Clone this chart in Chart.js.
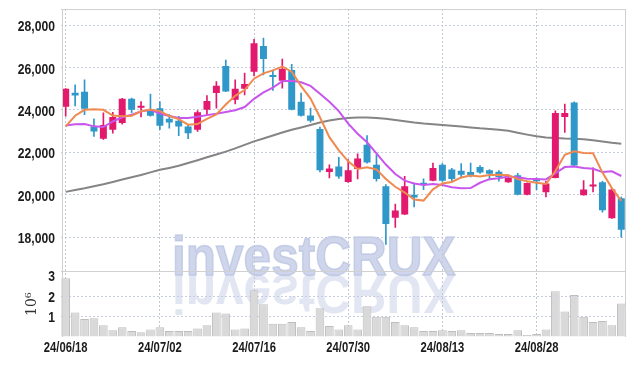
<!DOCTYPE html>
<html>
<head>
<meta charset="utf-8">
<script src="https://cdn.jsdelivr.net/npm/chart.js@4.4.1/dist/chart.umd.min.js"></script>
<style>
  html, body { margin: 0; padding: 0; background: #fff; }
  canvas { display: block; }
</style>
</head>
<body>
<canvas id="stockChart" width="634" height="366"></canvas>
<script>
// trading days, 24/06/18 .. 24/09/10
const dates = [
  '24/06/18','24/06/19','24/06/20','24/06/21','24/06/24','24/06/25','24/06/26','24/06/27','24/06/28','24/07/01',
  '24/07/02','24/07/03','24/07/04','24/07/05','24/07/08','24/07/09','24/07/10','24/07/11','24/07/12','24/07/15',
  '24/07/16','24/07/17','24/07/18','24/07/19','24/07/22','24/07/23','24/07/24','24/07/25','24/07/26','24/07/29',
  '24/07/30','24/07/31','24/08/01','24/08/02','24/08/05','24/08/06','24/08/07','24/08/08','24/08/09','24/08/12',
  '24/08/13','24/08/14','24/08/16','24/08/19','24/08/20','24/08/21','24/08/22','24/08/23','24/08/26','24/08/27',
  '24/08/28','24/08/29','24/08/30','24/09/02','24/09/03','24/09/04','24/09/05','24/09/06','24/09/09','24/09/10'
];

const openP = [
  24150, 24800, 24850, 23210, 22640, 23060, 23380, 24520, 24100, 24030,
  24080, 23580, 23480, 23210, 23060, 24000, 24790, 26070, 24470, 24990,
  25800, 27010, 25600, 25370, 25880, 24380, 23730, 23100, 21070, 21330,
  20600, 21210, 22350, 21410, 20390, 18910, 19060, 20000, 20510, 20660,
  21410, 21180, 21130, 21070, 21300, 21150, 21080, 20580, 20910, 20000,
  20710, 20110, 20790, 23660, 24350, 19970, 20380, 20580, 18890, 19830
];
const highP = [
  25000, 25180, 25410, 23580, 23860, 23880, 24540, 24550, 24390, 24740,
  24390, 23770, 23690, 23300, 23970, 24670, 25330, 26350, 25410, 25730,
  27330, 27380, 25880, 26390, 26150, 24790, 24080, 23190, 21410, 21760,
  21650, 21920, 22790, 21880, 20470, 19560, 20860, 20550, 20750, 21490,
  21460, 21240, 21460, 21490, 21370, 21180, 21130, 20930, 21000, 20560,
  20790, 20630, 23950, 24270, 24380, 20660, 21260, 20630, 20300, 19890
];
const lowP = [
  23700, 24190, 23770, 22750, 22600, 22900, 23320, 23870, 23660, 23700,
  23060, 23140, 22780, 22640, 22980, 23770, 24080, 24860, 24280, 24700,
  25600, 25650, 24910, 25020, 23990, 23700, 23420, 21070, 20790, 20760,
  20580, 20740, 21490, 20630, 17650, 18460, 19050, 19420, 20240, 20650,
  20620, 20630, 20790, 20830, 21000, 20700, 20630, 20580, 19990, 19990,
  20240, 19890, 20790, 22930, 21360, 19970, 20130, 19170, 18880, 17990
];
const closeP = [
  24990, 24670, 24050, 22980, 23290, 23660, 24520, 24000, 24190, 23720,
  23250, 23400, 23210, 22900, 23890, 24420, 25140, 24860, 24990, 25220,
  27140, 26400, 25550, 25920, 24000, 23720, 23480, 21150, 21230, 20860,
  21150, 21700, 21520, 20740, 18620, 19250, 20390, 19870, 20470, 21260,
  20660, 20740, 20940, 20930, 21050, 20980, 20830, 20790, 20000, 20550,
  20630, 20520, 23850, 23850, 21370, 20240, 20470, 19260, 20240, 18350
];

// moving averages
const ma5 = [
  23220, 23720, 24000, 24030, 24000, 23730, 23700, 23720, 23930, 24020,
  23940, 23710, 23560, 23300, 23330, 23570, 23780, 24250, 24660, 24930,
  25470, 25720, 25860, 26040, 25800, 25120, 24530, 23650, 22710, 22090,
  21570, 21210, 21290, 21190, 20740, 20370, 20100, 19770, 19720, 20250,
  20530, 20600, 20810, 20900, 20860, 20930, 20940, 20910, 20730, 20630,
  20560, 20500, 21110, 21880, 22040, 21960, 21950, 21040, 20310, 19710
];
const ma10 = [
  23260, 23320, 23330, 23220, 23190, 23450, 23650, 23770, 23920, 24000,
  23830, 23710, 23620, 23610, 23670, 23750, 23810, 23900, 23980, 24130,
  24520, 24820, 25050, 25350, 25370, 25300, 25130, 24760, 24380, 23940,
  23350, 22870, 22470, 21950, 21420, 20970, 20660, 20530, 20460, 20500,
  20450, 20350, 20300, 20310, 20560, 20730, 20770, 20860, 20820, 20750,
  20740, 20720, 21010, 21300, 21330, 21260, 21220, 21070, 21100, 20880
];
const ma60 = [
  20130, 20220, 20300, 20400, 20490, 20600, 20710, 20820, 20930, 21050,
  21170, 21260, 21360, 21490, 21620, 21760, 21890, 22030, 22180, 22350,
  22510, 22650, 22790, 22930, 23060, 23170, 23280, 23400, 23500, 23570,
  23620, 23640, 23640, 23620, 23580, 23520, 23460, 23400, 23350, 23320,
  23290, 23250, 23210, 23170, 23130, 23100, 23060, 23010, 22920, 22830,
  22750, 22700, 22670, 22650, 22640, 22610, 22560, 22510, 22450, 22400
];

// volume, millions of shares
const volume = [
  2.86, 1.20, 0.88, 0.91, 0.57, 0.33, 0.47, 0.29, 0.23, 0.37,
  0.47, 0.29, 0.29, 0.29, 0.42, 0.57, 1.20, 1.15, 0.37, 0.42,
  2.28, 1.60, 0.65, 0.65, 0.73, 0.47, 0.29, 1.40, 0.54, 0.37,
  0.57, 0.37, 1.50, 0.99, 0.99, 0.73, 0.57, 0.47, 0.29, 0.29,
  0.33, 0.29, 0.33, 0.20, 0.20, 0.20, 0.15, 0.15, 0.33, 0.10,
  0.15, 0.37, 2.23, 1.25, 2.05, 0.99, 0.73, 0.78, 0.57, 1.64
];

const priceTicks = [18000, 20000, 22000, 24000, 26000, 28000];
const volTicks = [0, 1, 2, 3];

const upColor = '#e2196d';
const downColor = '#3097c9';
const candleColors = closeP.map((c, i) => c >= openP[i] ? upColor : downColor);

const gridColor = '#c6cde2';
const labelFont = "bold 15px 'Liberation Sans', Arial, sans-serif";

// narrow label, squeezed sideways like the original condensed face
function drawLabel(ctx, text, x, y, align, squeeze) {
    ctx.save();
    ctx.translate(x, y);
    ctx.scale(squeeze, 1);
    ctx.font = labelFont;
    ctx.fillStyle = '#1c1c1c';
    ctx.textAlign = align;
    ctx.textBaseline = 'middle';
    ctx.fillText(text, 0, 0);
    ctx.restore();
}

// watermark, borders and axis labels
const decorPlugin = {
    id: 'decor',
    beforeDraw(chart) {
        const { ctx, chartArea } = chart;
        const x = chartArea.left + 111;
        const base = 275;
        ctx.save();
        ctx.font = "bold 56px 'Liberation Sans', Arial, sans-serif";
        ctx.textBaseline = 'alphabetic';
        ctx.translate(x, base);
        ctx.scale(0.885, 1);
        ctx.fillStyle = 'rgba(178, 189, 222, 0.62)';
        ctx.strokeStyle = 'rgba(178, 189, 222, 0.62)';
        ctx.lineWidth = 1.6;
        ctx.fillText('investCRUX', 0, 0);
        ctx.strokeText('investCRUX', 0, 0);
        // reflection
        ctx.scale(1, -1);
        const grad = ctx.createLinearGradient(0, 0, 0, 40);
        grad.addColorStop(0, 'rgba(178, 189, 222, 0.38)');
        grad.addColorStop(1, 'rgba(178, 189, 222, 0)');
        ctx.fillStyle = grad;
        ctx.fillText('investCRUX', 0, 0);
        ctx.restore();
    },
    afterDatasetsDraw(chart) {
        const { ctx, chartArea } = chart;
        const split = chart.scales.y.bottom;
        ctx.save();
        ctx.strokeStyle = '#d0d0d0';
        ctx.lineWidth = 1;
        ctx.beginPath();
        ctx.moveTo(chartArea.left + 1.5, chartArea.top);
        ctx.lineTo(chartArea.left + 1.5, chartArea.bottom);
        ctx.moveTo(chartArea.left, chartArea.top + 0.5);
        ctx.lineTo(chartArea.right, chartArea.top + 0.5);
        ctx.moveTo(chartArea.right - 0.5, chartArea.top);
        ctx.lineTo(chartArea.right - 0.5, chartArea.bottom);
        ctx.moveTo(chartArea.left, Math.round(split) + 0.5);
        ctx.lineTo(chartArea.right, Math.round(split) + 0.5);
        ctx.stroke();
        ctx.restore();
    },
    afterDraw(chart) {
        const { ctx } = chart;
        const { x, y, yVol } = chart.scales;
        priceTicks.forEach(v => drawLabel(ctx, v.toLocaleString('en-US'), 55, y.getPixelForValue(v) + 2, 'right', 0.81));
        volTicks.filter(v => v > 0).forEach(v => drawLabel(ctx, String(v), 55, yVol.getPixelForValue(v) + 1.5, 'right', 0.81));
        dates.forEach((d, i) => {
            if (i % 10 === 0) drawLabel(ctx, d, x.getPixelForValue(i), 348, 'center', 0.75);
        });
        ctx.save();
        ctx.translate(32, (yVol.top + yVol.bottom) / 2);
        ctx.rotate(-Math.PI / 2);
        ctx.fillStyle = '#333';
        ctx.font = "14px 'DejaVu Serif', serif";
        ctx.textAlign = 'center';
        ctx.textBaseline = 'middle';
        ctx.fillText('10⁶', 0, 0);
        ctx.restore();
    }
};

new Chart(
    document.getElementById('stockChart'),
    {
        type: 'bar',
        data: {
            labels: dates,
            datasets: [
                {
                    type: 'line',
                    label: 'MA5',
                    data: ma5,
                    yAxisID: 'y',
                    borderColor: '#ef8a50',
                    borderWidth: 2,
                    pointRadius: 0,
                    order: 0
                },
                {
                    type: 'line',
                    label: 'MA10',
                    data: ma10,
                    yAxisID: 'y',
                    borderColor: '#c956ec',
                    borderWidth: 2,
                    pointRadius: 0,
                    order: 0
                },
                {
                    label: 'Body',
                    data: dates.map((d, i) => [openP[i], closeP[i]]),
                    yAxisID: 'y',
                    backgroundColor: candleColors,
                    borderColor: candleColors,
                    borderWidth: 0,
                    barPercentage: 0.74,
                    categoryPercentage: 1,
                    minBarLength: 2,
                    grouped: false,
                    order: 1
                },
                {
                    label: 'Wick',
                    data: dates.map((d, i) => [lowP[i], highP[i]]),
                    yAxisID: 'y',
                    backgroundColor: candleColors,
                    barThickness: 1,
                    grouped: false,
                    order: 2
                },
                {
                    type: 'line',
                    label: 'MA60',
                    data: ma60,
                    yAxisID: 'y',
                    borderColor: '#858585',
                    borderWidth: 2,
                    pointRadius: 0,
                    order: 3
                },
                {
                    label: 'Volume',
                    data: volume,
                    yAxisID: 'yVol',
                    backgroundColor: '#d9d9d9',
                    borderColor: '#bdbdbd',
                    borderWidth: 1,
                    barPercentage: 0.92,
                    categoryPercentage: 1,
                    grouped: false,
                    order: 4
                }
            ]
        },
        options: {
            responsive: false,
            animation: false,
            layout: { padding: { top: 9, right: 8, left: 0, bottom: 0 } },
            plugins: {
                legend: { display: false },
                tooltip: { enabled: false }
            },
            scales: {
                x: {
                    type: 'category',
                    offset: true,
                    afterFit: scale => { scale.height = 29; },
                    grid: {
                        offset: false,
                        drawTicks: false,
                        color: ctx => ctx.index % 10 === 0 ? '#c4c8d6' : 'transparent'
                    },
                    border: { display: false, dash: [2, 2] },
                    ticks: { display: false, autoSkip: false }
                },
                yVol: {
                    type: 'linear',
                    position: 'left',
                    stack: 'panels',
                    stackWeight: 1,
                    min: 0,
                    max: 3.2,
                    afterBuildTicks: scale => { scale.ticks = volTicks.map(v => ({ value: v })); },
                    afterFit: scale => { scale.width = 61; },
                    grid: {
                        drawTicks: false,
                        color: ctx => (ctx.tick && (ctx.tick.value === 1 || ctx.tick.value === 2)) ? gridColor : 'transparent'
                    },
                    border: { display: false, dash: [2, 2] },
                    ticks: { display: false, autoSkip: false }
                },
                y: {
                    type: 'linear',
                    position: 'left',
                    stack: 'panels',
                    stackWeight: 4,
                    min: 16380,
                    max: 28755,
                    afterBuildTicks: scale => { scale.ticks = priceTicks.map(v => ({ value: v })); },
                    afterFit: scale => { scale.width = 61; },
                    grid: {
                        drawTicks: false,
                        color: gridColor
                    },
                    border: { display: false, dash: [2, 2] },
                    ticks: { display: false, autoSkip: false }
                }
            }
        },
        plugins: [decorPlugin]
    }
);
</script>
</body>
</html>
